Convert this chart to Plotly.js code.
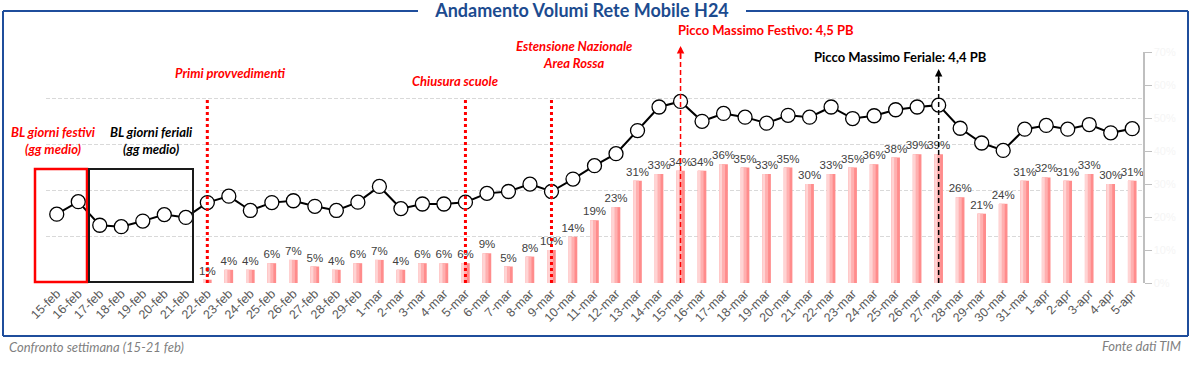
<!DOCTYPE html>
<html>
<head>
<meta charset="utf-8">
<script src="https://cdn.plot.ly/plotly-3.0.1.min.js"></script>
<style>html,body{margin:0;padding:0;background:#fff;}#chart{width:1199px;height:366px;}</style>
</head>
<body>
<div id="chart"></div>
<script>
const categories = ['15-feb','16-feb','17-feb','18-feb','19-feb','20-feb','21-feb','22-feb','23-feb','24-feb','25-feb','26-feb','27-feb','28-feb','29-feb',
  '1-mar','2-mar','3-mar','4-mar','5-mar','6-mar','7-mar','8-mar','9-mar','10-mar','11-mar','12-mar','13-mar','14-mar','15-mar','16-mar','17-mar','18-mar','19-mar','20-mar','21-mar','22-mar','23-mar','24-mar','25-mar','26-mar','27-mar','28-mar','29-mar','30-mar','31-mar',
  '1-apr','2-apr','3-apr','4-apr','5-apr'];

// Daily mobile traffic volume (PB)
const volumes = [1.99,2.26,1.75,1.72,1.84,1.98,1.92,
  2.24,2.38,2.07,2.24,2.28,2.16,2.07,2.25,
  2.59,2.11,2.21,2.21,2.25,2.44,2.48,2.64,2.48,2.75,3.04,3.30,3.80,4.31,4.43,4.00,4.17,4.09,3.96,4.13,4.09,4.31,4.06,4.12,4.25,4.31,4.35,3.85,3.53,3.37,3.83,
  3.91,3.83,3.93,3.75,3.84];

// Growth vs reference week (%)
const growth = [null,null,null,null,null,null,null,
  1,4,4,6,7,5,4,6,
  7,4,6,6,6,9,5,8,10,14,19,23,31,33,34,34,36,35,33,35,30,33,35,36,38,39,39,26,21,24,31,
  32,31,33,30,31];

const growthLabels = growth.map(v => v === null ? '' : v + '%');

const eventDays = {primi: '22-feb', scuole: '5-mar', rossa: '9-mar', festivo: '15-mar', feriale: '27-mar'};
const idx = d => categories.indexOf(d);

const annFont = 'Lato, "Open Sans", sans-serif';
const numFont = '"Liberation Sans", Arial, sans-serif';

const traces = [
  {type:'bar', x:categories, y:growth, width:0.4, marker:{color:'#ff8c8c'},
   text:growthLabels, textposition:'outside', cliponaxis:false, constraintext:'none',
   textfont:{family:numFont, size:11.5, color:'#404040'}, hoverinfo:'skip'},
  {type:'bar', x:categories, y:growth, width:0.27, offset:-0.2, marker:{color:'#ffb0b0'}, hoverinfo:'skip'},
  {type:'bar', x:categories, y:growth, width:0.13, offset:-0.2, marker:{color:'#ffd4d4'}, hoverinfo:'skip'},
  {type:'scatter', mode:'lines+markers', x:categories, y:volumes, yaxis:'y2', cliponaxis:false,
   line:{color:'#000', width:2},
   marker:{symbol:'circle', size:14, color:'#fff', line:{color:'#000', width:1.3}}, hoverinfo:'skip'}
];

const P = (X) => (X - 46) / 1097;
const Q = (Y) => (283 - Y) / 231;

const shapes = [
  // frame
  {type:'line', xref:'paper', yref:'paper', x0:P(3), x1:P(3), y0:Q(11), y1:Q(336), line:{color:'#1f4e9c', width:2}},
  {type:'line', xref:'paper', yref:'paper', x0:P(1188), x1:P(1188), y0:Q(11), y1:Q(336), line:{color:'#1f4e9c', width:2}},
  {type:'line', xref:'paper', yref:'paper', x0:P(3), x1:P(1188), y0:Q(336), y1:Q(336), line:{color:'#1f4e9c', width:2}},
  {type:'line', xref:'paper', yref:'paper', x0:P(3), x1:P(418), y0:Q(11), y1:Q(11), line:{color:'#1f4e9c', width:2}},
  {type:'line', xref:'paper', yref:'paper', x0:P(746), x1:P(1188), y0:Q(11), y1:Q(11), line:{color:'#1f4e9c', width:2}},
  // boxes
  {type:'rect', xref:'paper', yref:'paper', x0:P(35), x1:P(87), y0:Q(282), y1:Q(169), line:{color:'#ff0000', width:2.5}},
  {type:'rect', xref:'paper', yref:'paper', x0:P(89), x1:P(193), y0:Q(282), y1:Q(169), line:{color:'#1a1a1a', width:2}},
  // event lines
  {type:'line', xref:'x', yref:'y2', x0:idx(eventDays.primi), x1:idx(eventDays.primi), y0:0.5, y1:4.5, line:{color:'#ff0000', width:3, dash:'dot'}},
  {type:'line', xref:'x', yref:'y2', x0:idx(eventDays.scuole), x1:idx(eventDays.scuole), y0:0.5, y1:4.5, line:{color:'#ff0000', width:3, dash:'dot'}},
  {type:'line', xref:'x', yref:'y2', x0:idx(eventDays.rossa), x1:idx(eventDays.rossa), y0:0.5, y1:4.5, line:{color:'#ff0000', width:3, dash:'dot'}},
  {type:'line', xref:'x', yref:'y2', x0:idx(eventDays.festivo), x1:idx(eventDays.festivo), y0:0.5, y1:5.5, line:{color:'#ff0000', width:1.5, dash:'5px,3px'}},
  {type:'line', xref:'x', yref:'y2', x0:idx(eventDays.feriale), x1:idx(eventDays.feriale), y0:0.5, y1:5.0, line:{color:'#000', width:1.5, dash:'5px,3px'}}
];

const redBI = {family:annFont, size:13, color:'#ff0000', weight:'bold', style:'italic'};
const T = (X, Y, text, font, xa) => ({xref:'paper', yref:'paper', x:P(X), y:Q(Y), xanchor:xa || 'center', yanchor:'middle', text:text, showarrow:false, font:font});
const annotations = [
  T(230, 73, 'Primi provvedimenti', redBI),
  T(455, 81, 'Chiusura scuole', redBI),
  T(574, 54, 'Estensione Nazionale<br>Area Rossa', redBI),
  T(53, 140, 'BL giorni festivi<br>(gg medio)', redBI),
  T(151, 140, 'BL giorni feriali<br>(gg medio)', {family:annFont, size:13, color:'#000', weight:'bold', style:'italic'}),
  T(676, 30, 'Picco Massimo Festivo: 4,5 PB', {family:annFont, size:13, color:'#ff0000', weight:'bold'}, 'left'),
  T(812, 57, 'Picco Massimo Feriale: 4,4 PB', {family:annFont, size:13, color:'#000', weight:'bold'}, 'left'),
  {xref:'x', yref:'paper', x:idx(eventDays.festivo), y:Q(46), ax:0, ay:14, text:'', showarrow:true, arrowhead:2, arrowsize:1, arrowwidth:1.5, arrowcolor:'#ff0000'},
  {xref:'x', yref:'paper', x:idx(eventDays.feriale), y:Q(69), ax:0, ay:12, text:'', showarrow:true, arrowhead:2, arrowsize:1, arrowwidth:1.5, arrowcolor:'#000'},
  T(7, 347, 'Confronto settimana (15-21 feb)', {family:annFont, size:13, color:'#7f7f7f', style:'italic'}, 'left'),
  T(1183, 346, 'Fonte dati TIM', {family:annFont, size:13, color:'#7f7f7f', style:'italic'}, 'right')
];

const layout = {
  width:1199, height:366,
  margin:{l:46, r:56, t:52, b:83},
  paper_bgcolor:'#fff', plot_bgcolor:'#fff',
  showlegend:false,
  barmode:'overlay',
  title:{text:'Andamento Volumi Rete Mobile H24', x:582/1199, xref:'container', xanchor:'center', y:1-11/366, yref:'container', yanchor:'middle',
    font:{family:annFont, size:18, color:'#1c4b8f', weight:'bold'}},
  xaxis:{type:'category', tickangle:-45, tickfont:{family:numFont, size:12.5, color:'#595959'}, showgrid:false, zeroline:false, showline:false, ticks:'', range:[-0.5, categories.length-0.5]},
  yaxis:{side:'right', range:[0,70], dtick:10, ticksuffix:'%', showgrid:false, zeroline:false, showline:true, linecolor:'#bfbfbf', linewidth:1.5,
    ticks:'outside', ticklen:7, tickcolor:'#bfbfbf', tickfont:{family:numFont, size:11, color:'#f5f5f5'}},
  yaxis2:{side:'left', overlaying:'y', range:[0.5,5.5], tick0:0.5, dtick:1, showgrid:true, gridcolor:'#d9d9d9', griddash:'4px,2px', gridwidth:1,
    zeroline:false, showline:false, showticklabels:false},
  shapes:shapes,
  annotations:annotations
};

Plotly.newPlot('chart', traces, layout, {displayModeBar:false, staticPlot:true});
</script>
</body>
</html>
